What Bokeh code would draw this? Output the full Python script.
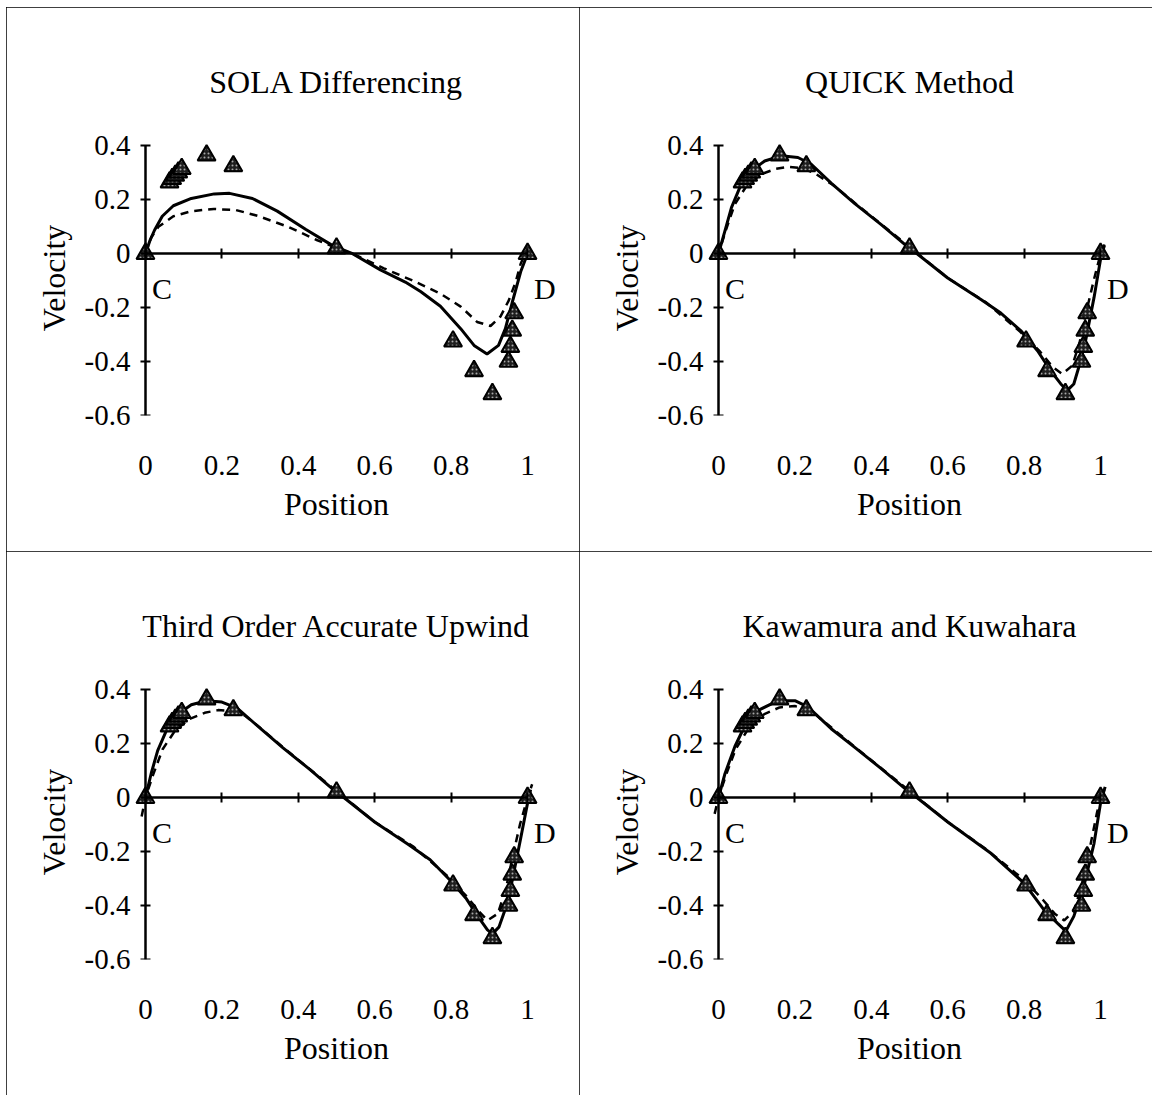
from bokeh.plotting import figure
from bokeh.models import Range1d, LinearAxis, FixedTicker
from bokeh.layouts import gridplot
from bokeh.embed import file_html
from bokeh.resources import INLINE
from bokeh.core.properties import value

FONT = "Liberation Serif"

# ---------------- data ----------------
x_ticks = [0, 0.2, 0.4, 0.6, 0.8, 1]
x_tick_labels = ["0", "0.2", "0.4", "0.6", "0.8", "1"]
y_ticks = [-0.6, -0.4, -0.2, 0, 0.2, 0.4]
y_tick_labels = ["-0.6", "-0.4", "-0.2", "0", "0.2", "0.4"]

titles = ["SOLA Differencing", "QUICK Method",
          "Third Order Accurate Upwind", "Kawamura and Kuwahara"]

end_labels = ["C", "D"]
end_label_x = [0.043, 1.045]
end_label_y = [-0.13, -0.13]

# reference (benchmark) points, the same in every panel
tri_x = [0.0, 0.063, 0.070, 0.078, 0.086, 0.095, 0.160, 0.230, 0.500,
         0.805, 0.860, 0.908, 0.950, 0.955, 0.960, 0.965, 1.0]
tri_y = [0.0, 0.265, 0.278, 0.290, 0.302, 0.315, 0.365, 0.325, 0.020,
         -0.325, -0.435, -0.520, -0.400, -0.345, -0.285, -0.220, 0.0]

# SOLA Differencing
sola_solid_x = [0, 0.012, 0.024, 0.044, 0.073, 0.12, 0.18, 0.22, 0.28, 0.345, 0.42,
                0.49, 0.542, 0.615, 0.68, 0.72, 0.772, 0.825, 0.86, 0.894, 0.924,
                0.942, 0.96, 0.982, 1.0]
sola_solid_y = [0, 0.05, 0.088, 0.139, 0.178, 0.205, 0.222, 0.224, 0.205, 0.158, 0.09,
                0.03, 0.0, -0.06, -0.105, -0.14, -0.195, -0.278, -0.34, -0.372, -0.34,
                -0.278, -0.18, -0.067, 0.0]
sola_dash_x = [0, 0.015, 0.034, 0.073, 0.121, 0.179, 0.237, 0.295, 0.373, 0.45, 0.508,
               0.547, 0.624, 0.70, 0.772, 0.825, 0.868, 0.903, 0.929, 0.951, 0.969,
               0.982, 1.0]
sola_dash_y = [0, 0.06, 0.10, 0.139, 0.158, 0.166, 0.162, 0.14, 0.10, 0.05, 0.017,
               -0.003, -0.054, -0.10, -0.148, -0.196, -0.253, -0.268, -0.233, -0.173,
               -0.104, -0.037, 0.02]

# QUICK Method
quick_solid_x = [0, 0.017, 0.034, 0.056, 0.086, 0.121, 0.164, 0.208, 0.243, 0.295, 0.356,
                 0.426, 0.5, 0.52, 0.6, 0.687, 0.739, 0.791, 0.835, 0.869, 0.896, 0.913,
                 0.93, 0.943, 0.961, 0.983, 1.0, 1.01]
quick_solid_y = [0, 0.085, 0.171, 0.246, 0.307, 0.344, 0.363, 0.357, 0.332, 0.262, 0.187,
                 0.108, 0.02, 0.0, -0.09, -0.17, -0.22, -0.285, -0.36, -0.433, -0.483,
                 -0.507, -0.483, -0.421, -0.322, -0.162, -0.02, 0.03]
quick_dash_x = [-0.005, 0.0, 0.02, 0.043, 0.075, 0.112, 0.15, 0.182, 0.215, 0.25, 0.3,
                0.36, 0.43, 0.5, 0.6, 0.7, 0.79, 0.84, 0.875, 0.9, 0.926, 0.945, 0.962,
                0.982, 1.0, 1.017]
quick_dash_y = [-0.01, 0, 0.09, 0.184, 0.255, 0.295, 0.315, 0.322, 0.318, 0.3, 0.255,
                0.185, 0.105, 0.025, -0.09, -0.18, -0.29, -0.36, -0.42, -0.446, -0.415,
                -0.33, -0.22, -0.1, 0.0, 0.055]

# Third Order Accurate Upwind
tou_solid_x = [0, 0.015, 0.032, 0.055, 0.085, 0.12, 0.16, 0.2, 0.24, 0.3, 0.36, 0.43,
               0.5, 0.52, 0.6, 0.69, 0.745, 0.8, 0.84, 0.87, 0.895, 0.908, 0.925, 0.94,
               0.958, 0.98, 1.0, 1.008]
tou_solid_y = [0, 0.09, 0.175, 0.25, 0.31, 0.345, 0.36, 0.355, 0.332, 0.258, 0.185, 0.105,
               0.02, 0.0, -0.09, -0.175, -0.23, -0.31, -0.375, -0.44, -0.49, -0.505,
               -0.48, -0.42, -0.32, -0.165, -0.02, 0.03]
tou_dash_x = [-0.01, 0.0, 0.02, 0.045, 0.078, 0.115, 0.155, 0.19, 0.225, 0.26, 0.3, 0.36,
              0.43, 0.5, 0.6, 0.7, 0.79, 0.84, 0.872, 0.895, 0.922, 0.943, 0.96, 0.98,
              1.0, 1.012]
tou_dash_y = [-0.07, 0, 0.085, 0.18, 0.25, 0.292, 0.315, 0.325, 0.322, 0.305, 0.26, 0.187,
              0.106, 0.025, -0.09, -0.18, -0.29, -0.365, -0.42, -0.455, -0.43, -0.34,
              -0.225, -0.1, 0.0, 0.05]

# Kawamura and Kuwahara
kk_solid_x = [0, 0.017, 0.043, 0.069, 0.104, 0.156, 0.2, 0.234, 0.295, 0.36, 0.426, 0.5,
              0.52, 0.6, 0.713, 0.8, 0.852, 0.887, 0.909, 0.93, 0.956, 0.983, 1.0, 1.012]
kk_solid_y = [0, 0.089, 0.19, 0.267, 0.324, 0.36, 0.36, 0.337, 0.256, 0.183, 0.108, 0.02,
              0.0, -0.09, -0.206, -0.317, -0.416, -0.465, -0.495, -0.44, -0.33, -0.169,
              -0.02, 0.04]
kk_dash_x = [-0.01, 0.0, 0.02, 0.045, 0.08, 0.12, 0.16, 0.2, 0.24, 0.3, 0.36, 0.43, 0.5,
             0.6, 0.7, 0.8, 0.85, 0.88, 0.905, 0.93, 0.95, 0.97, 0.99, 1.0, 1.01]
kk_dash_y = [-0.06, 0, 0.085, 0.18, 0.26, 0.31, 0.335, 0.34, 0.325, 0.255, 0.185, 0.105,
             0.025, -0.09, -0.19, -0.305, -0.38, -0.43, -0.455, -0.42, -0.33, -0.2,
             -0.06, 0.0, 0.03]


def make_panel(title, sx, sy, dx, dy):
    p = figure(width=573, height=544,
               x_range=Range1d(-0.081, 1.081), y_range=Range1d(-0.6, 0.42),
               output_backend="svg", toolbar_location=None,
               x_axis_type=None, y_axis_type=None,
               min_border_left=108, min_border_right=21,
               min_border_top=133, min_border_bottom=136,
               outline_line_color=None,
               background_fill_color="white", border_fill_color="white",
               styles={"outline": "1px solid black", "outline-offset": "-1px"})

    p.title.text = title
    p.title.text_font = FONT
    p.title.text_font_size = "32px"
    p.title.text_font_style = "normal"
    p.title.text_color = "black"
    p.title.align = "center"
    p.title.standoff = 81

    # y tick labels and axis title (axis sits at the frame edge, line hidden)
    ylab = LinearAxis(ticker=FixedTicker(ticks=y_ticks),
                      major_label_overrides=dict(zip(y_ticks, y_tick_labels)),
                      axis_label="Velocity")
    ylab.axis_line_color = None
    ylab.major_tick_line_color = None
    ylab.minor_tick_line_color = None
    ylab.major_tick_in = 0
    ylab.major_tick_out = 0
    ylab.major_label_text_font = FONT
    ylab.major_label_text_font_size = "29px"
    ylab.major_label_text_color = "black"
    ylab.major_label_standoff = -16
    ylab.axis_label_text_font = FONT
    ylab.axis_label_text_font_size = "32px"
    ylab.axis_label_text_font_style = "normal"
    ylab.axis_label_text_color = "black"
    ylab.axis_label_standoff = 10
    p.add_layout(ylab, "left")

    # vertical axis line with ticks through x = 0
    yax = LinearAxis(fixed_location=0, bounds=(-0.6, 0.4),
                     ticker=FixedTicker(ticks=y_ticks),
                     major_label_overrides={t: "" for t in y_ticks})
    yax.axis_line_width = 2.5
    yax.axis_line_color = "black"
    yax.major_tick_line_width = 2
    yax.major_tick_line_color = "black"
    yax.major_tick_in = 5
    yax.major_tick_out = 5
    yax.minor_tick_line_color = None
    yax.major_label_standoff = 0
    p.add_layout(yax, "left")

    # horizontal axis line with ticks through y = 0
    zax = LinearAxis(fixed_location=0, bounds=(0, 1),
                     ticker=FixedTicker(ticks=x_ticks),
                     major_label_overrides={t: "" for t in x_ticks})
    zax.axis_line_width = 2.5
    zax.axis_line_color = "black"
    zax.major_tick_line_width = 2
    zax.major_tick_line_color = "black"
    zax.major_tick_in = 5
    zax.major_tick_out = 5
    zax.minor_tick_line_color = None
    zax.major_label_standoff = 0
    p.add_layout(zax, "above")

    # x tick labels and axis title at the bottom
    xax = LinearAxis(ticker=FixedTicker(ticks=x_ticks),
                     major_label_overrides=dict(zip(x_ticks, x_tick_labels)),
                     axis_label="Position")
    xax.axis_line_color = None
    xax.major_tick_line_color = None
    xax.minor_tick_line_color = None
    xax.major_tick_in = 0
    xax.major_tick_out = 0
    xax.major_label_text_font = FONT
    xax.major_label_text_font_size = "29px"
    xax.major_label_text_color = "black"
    xax.major_label_standoff = 40
    xax.axis_label_text_font = FONT
    xax.axis_label_text_font_size = "32px"
    xax.axis_label_text_font_style = "normal"
    xax.axis_label_text_color = "black"
    xax.axis_label_standoff = 8
    p.add_layout(xax, "below")

    p.line(dx, dy, line_color="black", line_width=2.5, line_dash="8 6")
    p.line(sx, sy, line_color="black", line_width=3)
    p.scatter(tri_x, tri_y, marker="triangle", size=18,
              fill_color="#1e1e1e", line_color="black", line_width=2,
              hatch_pattern=".", hatch_color="#a8a8a8", hatch_scale=4, hatch_alpha=1.0)

    p.text(end_label_x, end_label_y, text=end_labels,
           text_font=value(FONT), text_font_size="30px", text_color="black",
           text_align="center", text_baseline="middle")
    return p


p1 = make_panel(titles[0], sola_solid_x, sola_solid_y, sola_dash_x, sola_dash_y)
p2 = make_panel(titles[1], quick_solid_x, quick_solid_y, quick_dash_x, quick_dash_y)
p3 = make_panel(titles[2], tou_solid_x, tou_solid_y, tou_dash_x, tou_dash_y)
p4 = make_panel(titles[3], kk_solid_x, kk_solid_y, kk_dash_x, kk_dash_y)

grid = gridplot([[p1, p2], [p3, p4]], toolbar_location=None)
grid.margin = (7, 0, 0, 6)

open("out.html", "w").write(file_html(grid, INLINE))
